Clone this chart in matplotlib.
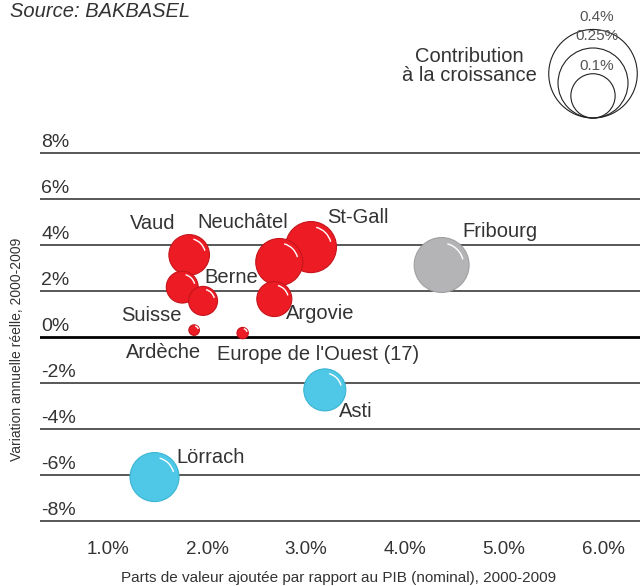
import numpy as np
import matplotlib
matplotlib.use("Agg")
import matplotlib.pyplot as plt
from matplotlib.patches import Circle, Arc
from matplotlib.transforms import ScaledTranslation, blended_transform_factory

plt.rcParams['font.family'] = ['Liberation Sans', 'DejaVu Sans']

# data
regions = ["Vaud", "Suisse", "Berne", "St-Gall", "Neuchâtel", "Argovie",
           "Ardèche", "Europe de l'Ouest (17)", "Fribourg", "Asti", "Lörrach"]
va_share = [1.82, 1.75, 1.96, 3.05, 2.73, 2.68, 1.87, 2.36, 4.37, 3.19, 1.47]
growth = [3.57, 2.17, 1.57, 3.91, 3.26, 1.65, 0.30, 0.17, 3.13, -2.30, -6.09]
contrib = [0.084, 0.052, 0.043, 0.133, 0.113, 0.0625, 0.0057, 0.0066, 0.154, 0.09, 0.1225]
group = ["ch", "ch", "ch", "ch", "ch", "ch", "ch", "ch", "fr", "it", "de"]

legend_sizes = [0.4, 0.25, 0.1]
legend_labels = ["0.4%", "0.25%", "0.1%"]
yticks = [-8, -6, -4, -2, 0, 2, 4, 6, 8]
xticks = [1, 2, 3, 4, 5, 6]

colors = {"ch": "#ed1c24", "fr": "#b4b4b6", "it": "#4ec8e6", "de": "#4ec8e6"}
edges = {"ch": "#c5141b", "fr": "#a0a0a2", "it": "#3bb4d2", "de": "#3bb4d2"}

# label offsets in pixels from bubble centre
offsets = {
    "Vaud": (-37, 31), "Suisse": (-31, -28), "Berne": (28, 23),
    "St-Gall": (47, 30), "Neuchâtel": (-37, 40), "Argovie": (46, -14),
    "Ardèche": (-31, -22), "Europe de l'Ouest (17)": (75, -21),
    "Fribourg": (58, 34), "Asti": (31, -22), "Lörrach": (56, 20),
}

DPI = 100
K = 70 / DPI  # bubble radius in inches per sqrt(contribution)
text_col = "#333333"

fig = plt.figure(figsize=(6.4, 5.86), dpi=DPI)
ax = fig.add_axes([40 / 640, 51 / 586, 600 / 640, 395 / 586])
ax.set_xlim(1 - 68 / 99, 1 + 532 / 99)
ax.set_ylim((337 - 535) / 23, (337 - 140) / 23)
for s in ax.spines.values():
    s.set_visible(False)

for v in yticks:
    ax.axhline(v, color="#000000" if v == 0 else "#2a2a2a",
               lw=2.0 if v == 0 else 1.1, zorder=1)
    ax.annotate(f"{v}%", xy=(0, v), xycoords=blended_transform_factory(ax.transAxes, ax.transData),
                xytext=(1, 2), textcoords="offset pixels", ha="left", va="bottom",
                fontsize=14, color=text_col)

ax.set_yticks([])
ax.set_xticks(xticks)
ax.set_xticklabels([f"{v:.1f}%" for v in xticks], fontsize=13.5, color=text_col)
ax.tick_params(axis="x", length=0, pad=4)


def bubble(x, y, r_in, face, edge, z):
    tr = fig.dpi_scale_trans + ScaledTranslation(x, y, ax.transData)
    ax.add_patch(Circle((0, 0), r_in, transform=tr, facecolor=face,
                        edgecolor=edge, lw=0.8, zorder=z))
    ax.add_patch(Arc((0, 0), 1.6 * r_in, 1.6 * r_in, theta1=15, theta2=75,
                     transform=tr, color="white", lw=1.0, zorder=z + 0.1))


for i, name in enumerate(regions):
    r = K * np.sqrt(contrib[i])
    bubble(va_share[i], growth[i], r, colors[group[i]], edges[group[i]], 3 + i * 0.2)
    ax.annotate(name, xy=(va_share[i], growth[i]), xytext=offsets[name],
                textcoords="offset pixels", ha="center", va="center",
                fontsize=14.5, color=text_col, zorder=10)

fig.text(339 / 640, 1 - 578 / 586,
         "Parts de valeur ajoutée par rapport au PIB (nominal), 2000-2009",
         fontsize=11, color=text_col, ha="center", va="center")
fig.text(17 / 640, 1 - 349 / 586, "Variation annuelle réelle, 2000-2009",
         rotation=90, ha="center", va="center", fontsize=10, color=text_col)

fig.text(10 / 640, 1 - 2 / 586, "Source: BAKBASEL", fontsize=14.5, style="italic",
         color=text_col, ha="left", va="top")

# size legend
bottom = (586 - 118) / DPI
cx = 593 / DPI
for s in legend_sizes:
    r = K * np.sqrt(s)
    fig.add_artist(Circle((cx, bottom + r), r, transform=fig.dpi_scale_trans,
                          facecolor="none", edgecolor="#222222", lw=0.8))
for lab, py in zip(legend_labels, [17, 36, 66]):
    fig.text(597 / 640, 1 - py / 586, lab, fontsize=11, color="#555555",
             ha="center", va="center")
fig.text(469 / 640, 1 - 66 / 586, "Contribution\nà la croissance", fontsize=14.5,
         color=text_col, ha="center", va="center", linespacing=0.95)

fig.savefig("out.png", dpi=DPI)
